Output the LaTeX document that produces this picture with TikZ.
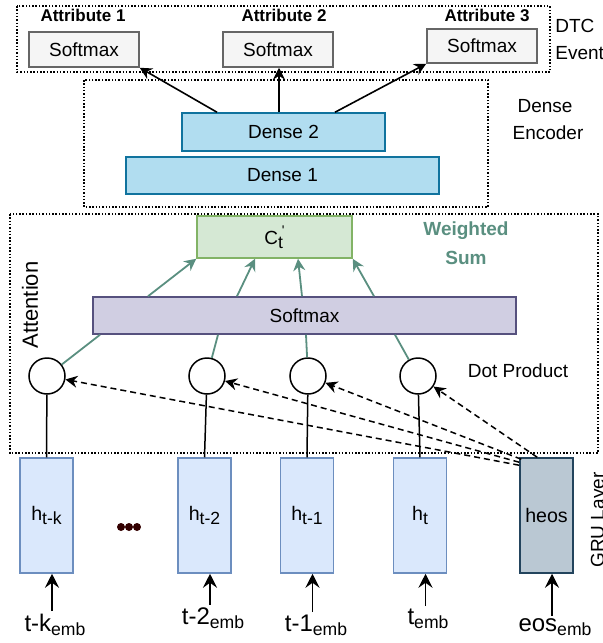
\documentclass[tikz,border=0pt]{standalone}
\usepackage{fontspec}
\setmainfont{Liberation Sans}
\usepackage{xcolor}
\usepackage{tikz}
\usetikzlibrary{arrows.meta,positioning,shapes.geometric}
\definecolor{smfill}{HTML}{F5F5F5}
\definecolor{smdraw}{HTML}{666666}
\definecolor{densefill}{HTML}{B1DDF0}
\definecolor{densedraw}{HTML}{10739E}
\definecolor{ctfill}{HTML}{D5E8D4}
\definecolor{ctdraw}{HTML}{82B366}
\definecolor{attfill}{HTML}{D0CEE2}
\definecolor{attdraw}{HTML}{56517E}
\definecolor{hfill}{HTML}{DAE8FC}
\definecolor{hdraw}{HTML}{6C8EBF}
\definecolor{eosfill}{HTML}{BAC8D3}
\definecolor{eosdraw}{HTML}{23445D}
\definecolor{tealc}{HTML}{5A8F80}
\definecolor{dotc}{HTML}{330000}
\newcommand{\subtxt}[1]{\raisebox{-2.25pt}{\fontsize{8.8}{9}\selectfont #1}}
\tikzset{
	region/.style = {draw, line width=0.75pt, dash pattern=on 0.75pt off 0.9pt},
	smbox/.style = {
			draw=smdraw, fill=smfill, line width=0.75pt,
			minimum width=55pt, minimum height=17.5pt,
			font=\fontsize{9.5}{10}\selectfont,
		},
	densebox/.style = {
			draw=densedraw, fill=densefill, line width=0.75pt,
			minimum height=19pt, font=\fontsize{9.5}{10}\selectfont,
		},
	ctbox/.style = {
			draw=ctdraw, fill=ctfill, line width=0.75pt,
			minimum width=77.5pt, minimum height=21pt,
			font=\fontsize{9.5}{10}\selectfont,
		},
	attbox/.style = {
			draw=attdraw, fill=attfill, line width=0.75pt,
			minimum width=211.5pt, minimum height=18.5pt,
			font=\fontsize{9.5}{10}\selectfont,
		},
	hbox/.style = {
			draw=hdraw, fill=hfill, line width=0.75pt,
			minimum width=26.5pt, minimum height=57.5pt, inner sep=0pt,
			font=\fontsize{9.8}{10}\selectfont,
		},
	eosbox/.style = {hbox, draw=eosdraw, fill=eosfill},
	dotnode/.style = {
			circle, draw, fill=white, line width=0.75pt,
			minimum size=18pt, inner sep=0pt,
		},
	attrtext/.style = {font=\bfseries\fontsize{8.5}{9}\selectfont, inner sep=0pt},
	sidetext/.style = {font=\fontsize{9.5}{10}\selectfont, inner sep=0pt},
	teallabel/.style = {font=\bfseries\fontsize{9.5}{10}\selectfont, text=tealc, inner sep=0pt},
	inlabel/.style = {font=\fontsize{12}{13}\selectfont, inner sep=1pt},
	blackarrow/.style = {-{Stealth[length=6pt,width=6pt,inset=2pt]}, line width=0.8pt},
	tealarrow/.style = {-{Stealth[length=6pt,width=6pt,inset=2pt]}, draw=tealc, line width=0.9pt},
	tealline/.style = {draw=tealc, line width=0.9pt},
	dasharrow/.style = {-{Stealth[length=6pt,width=6pt,inset=2pt]}, line width=0.75pt, dash pattern=on 3pt off 2pt},
	inarrow/.style = {-{Stealth[length=7pt,width=7pt,inset=2.5pt]}, line width=0.8pt},
	link/.style = {line width=0.75pt},
}

\begin{document}
\begin{tikzpicture}[x=0.5pt,y=-0.5pt]
	% Fix the bounding box to the reference size
	\useasboundingbox (0,0) rectangle (603,643);

	% Dotted regions
	\draw[region] (17,6) rectangle (550,72);
	\draw[region] (84,80) rectangle (488,207);
	\draw[region] (10,214) rectangle (598,453);

	% DTC event outputs
	\node[smbox] (sm1) at (84,49.5) {Softmax};
	\node[smbox] (sm2) at (278,49.5) {Softmax};
	\node[smbox, minimum height=17pt] (sm3) at (482,46) {Softmax};
	\node[attrtext] at (83,15) {Attribute 1};
	\node[attrtext] at (284,15) {Attribute 2};
	\node[attrtext] at (487,15) {Attribute 3};
	\node[sidetext, anchor=west] at (555,26) {DTC};
	\node[sidetext, anchor=west] at (555,53) {Event};

	% Dense encoder
	\node[densebox, minimum width=101.5pt] (d2) at (283.5,132) {Dense 2};
	\node[densebox, minimum width=156.5pt, minimum height=18.5pt] (d1) at (282.5,175.5) {Dense 1};
	\node[sidetext] at (545,106) {Dense};
	\node[sidetext] at (548,133) {Encoder};
	\draw[blackarrow] ([xshift=-33.25pt]d2.north) -- (sm1.south east);
	\draw[blackarrow] ([xshift=-2.25pt]d2.north) -- ([xshift=0.5pt]sm2.south);
	\draw[blackarrow] ([xshift=25.75pt]d2.north) -- (sm3.south west);

	% Attention
	\node[ctbox] (ct) at (274.5,237) {C\subtxt{t}\kern-0.5pt\raisebox{4.5pt}{\fontsize{7}{7}\selectfont\textquotesingle}};
	\node[attbox] (att) at (304.5,315.5) {Softmax};
	\node[teallabel] at (466,231) {Weighted};
	\node[teallabel] at (466,258) {Sum};
	\node[rotate=90, font=\fontsize{11}{12}\selectfont, inner sep=0pt] at (30,305) {Attention};
	\node[sidetext] at (518,371) {Dot Product};
	\foreach \n/\x in {1/47,2/207,3/308,4/418}
		\node[dotnode] (c\n) at (\x,376) {};

	\draw[tealarrow] ([xshift=-78.25pt]att.north) -- (ct.south west);
	\draw[tealarrow] ([xshift=-33.75pt]att.north) -- ([xshift=-9.75pt]ct.south);
	\draw[tealarrow] ([xshift=-1.25pt]att.north) -- ([xshift=11.75pt]ct.south);
	\draw[tealarrow] ([xshift=34.75pt]att.north) -- (ct.south east);

	\draw[tealline] ([xshift=-102.25pt]att.south) -- (c1);
	\draw[tealline] ([xshift=-43.25pt]att.south) -- (c2);
	\draw[tealline] ([xshift=0.75pt]att.south) -- (c3);
	\draw[tealline] ([xshift=45.25pt]att.south) -- (c4);

	% GRU layer
	\foreach \n/\x/\txt in {1/46.5/{h\subtxt{t-k}},2/204.5/{h\subtxt{t-2}},3/307/{h\subtxt{t-1}},4/420/{h\subtxt{t}}}
		\node[hbox] (h\n) at (\x,515.5) {\txt};
	\node[eosbox] (heos) at (546.5,515.5) {heos};
	\foreach \x in {121,129,137}
		\fill[dotc] (\x,527) circle (2pt);
	\node[rotate=90, anchor=base, font=\fontsize{9.5}{10}\selectfont, inner sep=0pt] at (604,520) {GRU Layer};

	\foreach \n in {1,...,4}
		\draw[link] (h\n.north) -- (c\n);

	\draw[dasharrow] ([yshift=-4pt]heos.north west) -- (c1);
	\draw[dasharrow] ([yshift=-2.5pt]heos.north west) -- (c2);
	\draw[dasharrow] ([xshift=1pt,yshift=-1pt]heos.north west) -- (c3);
	\draw[dasharrow] ([xshift=9pt]heos.north west) -- (c4);

	% Inputs
	\node[inlabel, anchor=base] (in1) at (55,631) {t-k\subtxt{emb}};
	\node[inlabel, anchor=base] (in2) at (213,624) {t-2\subtxt{emb}};
	\node[inlabel, anchor=base] (in3) at (316,631) {t-1\subtxt{emb}};
	\node[inlabel, anchor=base] (in4) at (428,624) {t\subtxt{emb}};
	\node[inlabel, anchor=base] (in5) at (555,631) {eos\subtxt{emb}};
	\foreach \n in {1,...,4}
		\draw[inarrow] ([xshift=2.75pt]h\n.south |- in\n.north) -- ([xshift=2.75pt]h\n.south);
	\draw[inarrow] ([xshift=2.75pt]heos.south |- in5.north) -- ([xshift=2.75pt]heos.south);
\end{tikzpicture}
\end{document}
